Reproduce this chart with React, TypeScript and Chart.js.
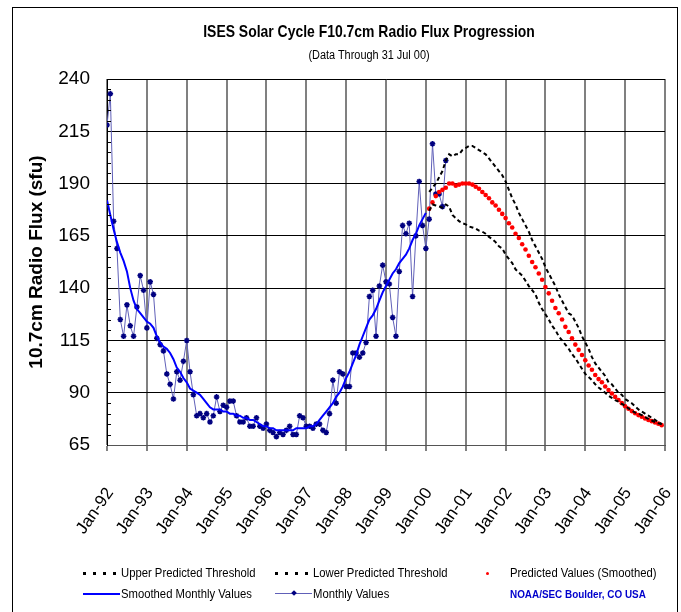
import React, { useEffect, useRef } from "react";
import { Chart, registerables } from "chart.js";

Chart.register(...registerables);

// ---- Data ----
const xTickLabels = [
  "Jan-92", "Jan-93", "Jan-94", "Jan-95", "Jan-96", "Jan-97", "Jan-98",
  "Jan-99", "Jan-00", "Jan-01", "Jan-02", "Jan-03", "Jan-04", "Jan-05", "Jan-06",
];
const yTickValues = [65, 90, 115, 140, 165, 190, 215, 240];

// Monthly values, Jan-92 .. Jul-00
const monthlyValues = [
  218, 233, 172, 159, 125, 117, 132, 122, 117, 131, 146, 139,
  121, 143, 137, 116, 113, 110, 99, 94, 87, 100, 96, 105,
  115, 100, 89, 79, 80, 78, 80, 76, 79, 88, 81, 84,
  83, 86, 86, 79, 76, 76, 78, 74, 74, 78, 74, 73,
  75, 72, 71, 69, 71, 70, 72, 74, 70, 70, 79, 78,
  74, 74, 73, 75, 75, 72, 71, 80, 96, 85, 100, 99,
  93, 93, 109, 109, 107, 109, 114, 136, 139, 117, 141, 151,
  143, 142, 126, 117, 148, 170, 166, 171, 136, 165, 191, 170,
  159, 173, 209, 185, 185, 179, 201,
];

// Smoothed monthly values, Jan-92 .. Jan-00
const smoothedValues = [
  182, 175, 168, 162, 157, 153, 148, 140, 134, 130, 128, 126,
  124, 123, 121, 117, 114, 112, 111, 109, 106, 102, 100, 97,
  95, 92, 91, 90, 89, 87, 85, 83, 82, 82, 82, 81,
  81, 80, 80, 79, 79, 78, 78, 77, 77, 76, 75, 74,
  74, 73, 73, 72, 72, 72, 72, 72, 72, 73, 73, 73,
  73, 74, 74, 75, 77, 79, 81, 83, 85, 88, 90, 93,
  97, 100, 104, 108, 113, 117, 121, 125, 127, 130, 134, 138,
  141, 144, 147, 149, 152, 154, 156, 159, 163, 166, 170, 173,
  176,
];

// Predictions start Feb-00 (month index 97 from Jan-92) and run to Dec-05
const predictionStartMonth = 97;

const predictedValues = [
  178, 181, 184, 186, 187, 188, 190, 190, 189, 189.5, 190, 190,
  190, 189.5, 188.5, 187.5, 186, 184.5, 183, 181, 179.5, 177.5, 175.5, 173.5,
  171, 169, 166, 164, 161, 158.5, 155.5, 152.5, 150, 147, 144, 140.5,
  137.5, 134, 130.5, 128, 125, 121.5, 119, 116, 113, 110.5, 108, 105.5,
  103, 101, 98.5, 96.5, 95, 93, 91.3, 89.6, 88, 86.5, 85, 83.5,
  82.3, 81.2, 80.2, 79.3, 78.5, 77.7, 77, 76.4, 75.8, 75.2, 74.5,
];

const upperThreshold = [
  186, 188, 190, 193, 196, 201, 204, 203, 204, 204, 206, 207,
  208, 208, 207, 206, 205, 204, 202, 200, 198, 196, 194, 191,
  187, 183, 180, 176, 173, 170, 167, 163, 160, 157, 154, 150,
  147, 144, 141, 137, 134, 131, 128, 127, 124, 121, 117, 114,
  111, 107, 104, 102, 100, 98, 95, 94, 92, 90, 89, 87,
  86, 85, 83.5, 82, 81, 80, 79, 78, 77, 76, 75,
];

const lowerThreshold = [
  177, 180, 179.5, 179, 178.5, 180, 179, 175, 173.5, 172, 171, 170.5,
  169.5, 169, 168.5, 167.5, 167, 166, 164.5, 163.5, 162, 160, 159, 156,
  154, 152, 149, 147.5, 146, 143.5, 141, 139, 137, 133, 130, 127.5,
  125, 122, 120, 117, 115, 113, 111, 108.5, 106.5, 104, 101.5, 99,
  97.5, 96, 94, 92.5, 91.3, 90, 88.5, 87.5, 86.5, 85.7, 84.7, 83.7,
  82.5, 81.5, 80.5, 80, 79.3, 78.3, 77.5, 76.7, 76, 75.4, 75,
];

const FONT = "'Liberation Sans', Arial, sans-serif";

const toPoints = (arr: number[], start: number) =>
  arr.map((v, i) => ({ x: start + i, y: v }));

const minorTicksPlugin = {
  id: "minorTicks",
  afterDraw(chart: any) {
    const y = chart.scales.y;
    const area = chart.chartArea;
    const ctx = chart.ctx;
    ctx.save();
    ctx.strokeStyle = "#000";
    ctx.lineWidth = 1;
    for (let v = y.min; v <= y.max; v += 5) {
      if (yTickValues.includes(v)) continue;
      const py = Math.round(y.getPixelForValue(v)) + 0.5;
      ctx.beginPath();
      ctx.moveTo(area.left, py);
      ctx.lineTo(area.left + 4, py);
      ctx.stroke();
    }
    ctx.restore();
  },
};

function ChartCanvas() {
  const ref = useRef<HTMLCanvasElement | null>(null);
  useEffect(() => {
    if (!ref.current) return;
    const chart = new Chart(ref.current, {
      type: "line",
      data: {
        datasets: [
          {
            label: "Upper Predicted Threshold",
            data: toPoints(upperThreshold, predictionStartMonth),
            borderColor: "#000",
            borderWidth: 2,
            borderDash: [4, 3],
            pointRadius: 0,
            fill: false,
          },
          {
            label: "Lower Predicted Threshold",
            data: toPoints(lowerThreshold, predictionStartMonth),
            borderColor: "#000",
            borderWidth: 2,
            borderDash: [4, 3],
            pointRadius: 0,
            fill: false,
          },
          {
            label: "Predicted Values (Smoothed)",
            data: toPoints(predictedValues, predictionStartMonth),
            showLine: false,
            pointRadius: 2.3,
            pointBackgroundColor: "#ff0000",
            pointBorderColor: "#ff0000",
            pointBorderWidth: 0,
          },
          {
            label: "Smoothed Monthly Values",
            data: toPoints(smoothedValues, 0),
            borderColor: "#0000ff",
            borderWidth: 2,
            pointRadius: 0,
            fill: false,
          },
          {
            label: "Monthly Values",
            data: toPoints(monthlyValues, 0),
            borderColor: "#6060b8",
            borderWidth: 1,
            pointStyle: "star",
            pointRadius: 2.8,
            pointBorderWidth: 1.5,
            pointBorderColor: "#000080",
            pointBackgroundColor: "#000080",
            fill: false,
          },
        ],
      },
      options: {
        animation: false,
        responsive: false,
        devicePixelRatio: 1,
        layout: { autoPadding: false, padding: { left: 22, right: 16, top: 79, bottom: 67 } },
        plugins: {
          legend: { display: false },
          tooltip: { enabled: false },
          title: { display: false },
        },
        scales: {
          x: {
            type: "linear",
            min: 0,
            max: 168,
            afterBuildTicks: (scale: any) => {
              scale.ticks = xTickLabels.map((_, i) => ({ value: i * 12 }));
            },
            afterFit: (scale: any) => {
              scale.height = 100;
              scale.paddingLeft = 0;
              scale.paddingRight = 0;
            },
            ticks: {
              autoSkip: false,
              maxRotation: 55,
              minRotation: 55,
              padding: 33,
              labelOffset: 3,
              color: "#000",
              font: { family: FONT, size: 17 },
              callback: (_v: any, i: number) => xTickLabels[i],
            },
            grid: {
              color: "#808080",
              lineWidth: 2,
              drawTicks: true,
              tickLength: 6,
              tickColor: "#808080",
            },
            border: { color: "#555", width: 1 },
          },
          y: {
            min: 65,
            max: 240,
            afterBuildTicks: (scale: any) => {
              scale.ticks = yTickValues.map((v) => ({ value: v }));
            },
            afterFit: (scale: any) => {
              scale.width = 85;
              scale.paddingTop = 0;
              scale.paddingBottom = 0;
            },
            ticks: {
              padding: 17,
              color: "#000",
              font: { family: FONT, size: 19 },
            },
            grid: { color: "#000", lineWidth: 1, drawTicks: false },
            border: { color: "#000", width: 1 },
            title: {
              display: true,
              text: "10.7cm Radio Flux (sfu)",
              color: "#000",
              font: { family: FONT, size: 19, weight: "bold" },
              padding: { top: 3, bottom: 4 },
            },
          },
        },
      },
      plugins: [minorTicksPlugin],
    });
    return () => chart.destroy();
  }, []);
  return (
    <canvas
      ref={ref}
      width={681}
      height={612}
      style={{ position: "absolute", left: 0, top: 0, width: 681, height: 612 }}
    />
  );
}

const legendText: React.CSSProperties = {
  position: "absolute",
  fontFamily: FONT,
  fontSize: 12,
  color: "#000",
  whiteSpace: "nowrap",
  lineHeight: "14px",
  transform: "scaleX(0.94)",
  transformOrigin: "left center",
};

const dotted = "repeating-linear-gradient(90deg,#000 0 3px,transparent 3px 10px)";

export default function App() {
  return (
    <div
      style={{
        position: "fixed",
        left: 0,
        top: 0,
        width: 681,
        height: 612,
        overflow: "hidden",
        background: "#fff",
      }}
    >
      <div
        style={{
          position: "absolute",
          left: 12,
          top: 7,
          width: 664,
          height: 700,
          border: "1px solid #000",
        }}
      />
      <ChartCanvas />
      <div
        style={{
          position: "absolute",
          left: 369,
          top: 22,
          transform: "translateX(-50%) scaleX(0.82)",
          fontFamily: FONT,
          fontWeight: "bold",
          fontSize: 17,
          whiteSpace: "nowrap",
          color: "#000",
        }}
      >
        ISES Solar Cycle F10.7cm Radio Flux Progression
      </div>
      <div
        style={{
          position: "absolute",
          left: 369,
          top: 48,
          transform: "translateX(-50%) scaleX(0.91)",
          fontFamily: FONT,
          fontSize: 12,
          whiteSpace: "nowrap",
          color: "#000",
        }}
      >
        (Data Through 31 Jul 00)
      </div>

      {/* Legend row 1 */}
      <div style={{ position: "absolute", left: 83, top: 572, width: 36, height: 3, background: dotted }} />
      <div style={{ ...legendText, left: 121, top: 566 }}>Upper Predicted Threshold</div>
      <div style={{ position: "absolute", left: 275, top: 572, width: 36, height: 3, background: dotted }} />
      <div style={{ ...legendText, left: 313, top: 566 }}>Lower Predicted Threshold</div>
      <div
        style={{
          position: "absolute",
          left: 486,
          top: 572,
          width: 3,
          height: 3,
          borderRadius: 2,
          background: "#ff0000",
        }}
      />
      <div style={{ ...legendText, left: 510, top: 566 }}>Predicted Values (Smoothed)</div>

      {/* Legend row 2 */}
      <div style={{ position: "absolute", left: 83, top: 593, width: 37, height: 2, background: "#0000ff" }} />
      <div style={{ ...legendText, left: 121, top: 587 }}>Smoothed Monthly Values</div>
      <div style={{ position: "absolute", left: 275, top: 593, width: 37, height: 1, background: "#6060b8" }} />
      <div
        style={{
          position: "absolute",
          left: 292,
          top: 591,
          width: 4,
          height: 4,
          background: "#000080",
          transform: "rotate(45deg)",
        }}
      />
      <div style={{ ...legendText, left: 313, top: 587 }}>Monthly Values</div>
      <div
        style={{
          ...legendText,
          left: 510,
          top: 587,
          fontWeight: "bold",
          fontSize: 11,
          transform: "scaleX(0.9)",
          color: "#0000cc",
        }}
      >
        NOAA/SEC Boulder, CO USA
      </div>
    </div>
  );
}
